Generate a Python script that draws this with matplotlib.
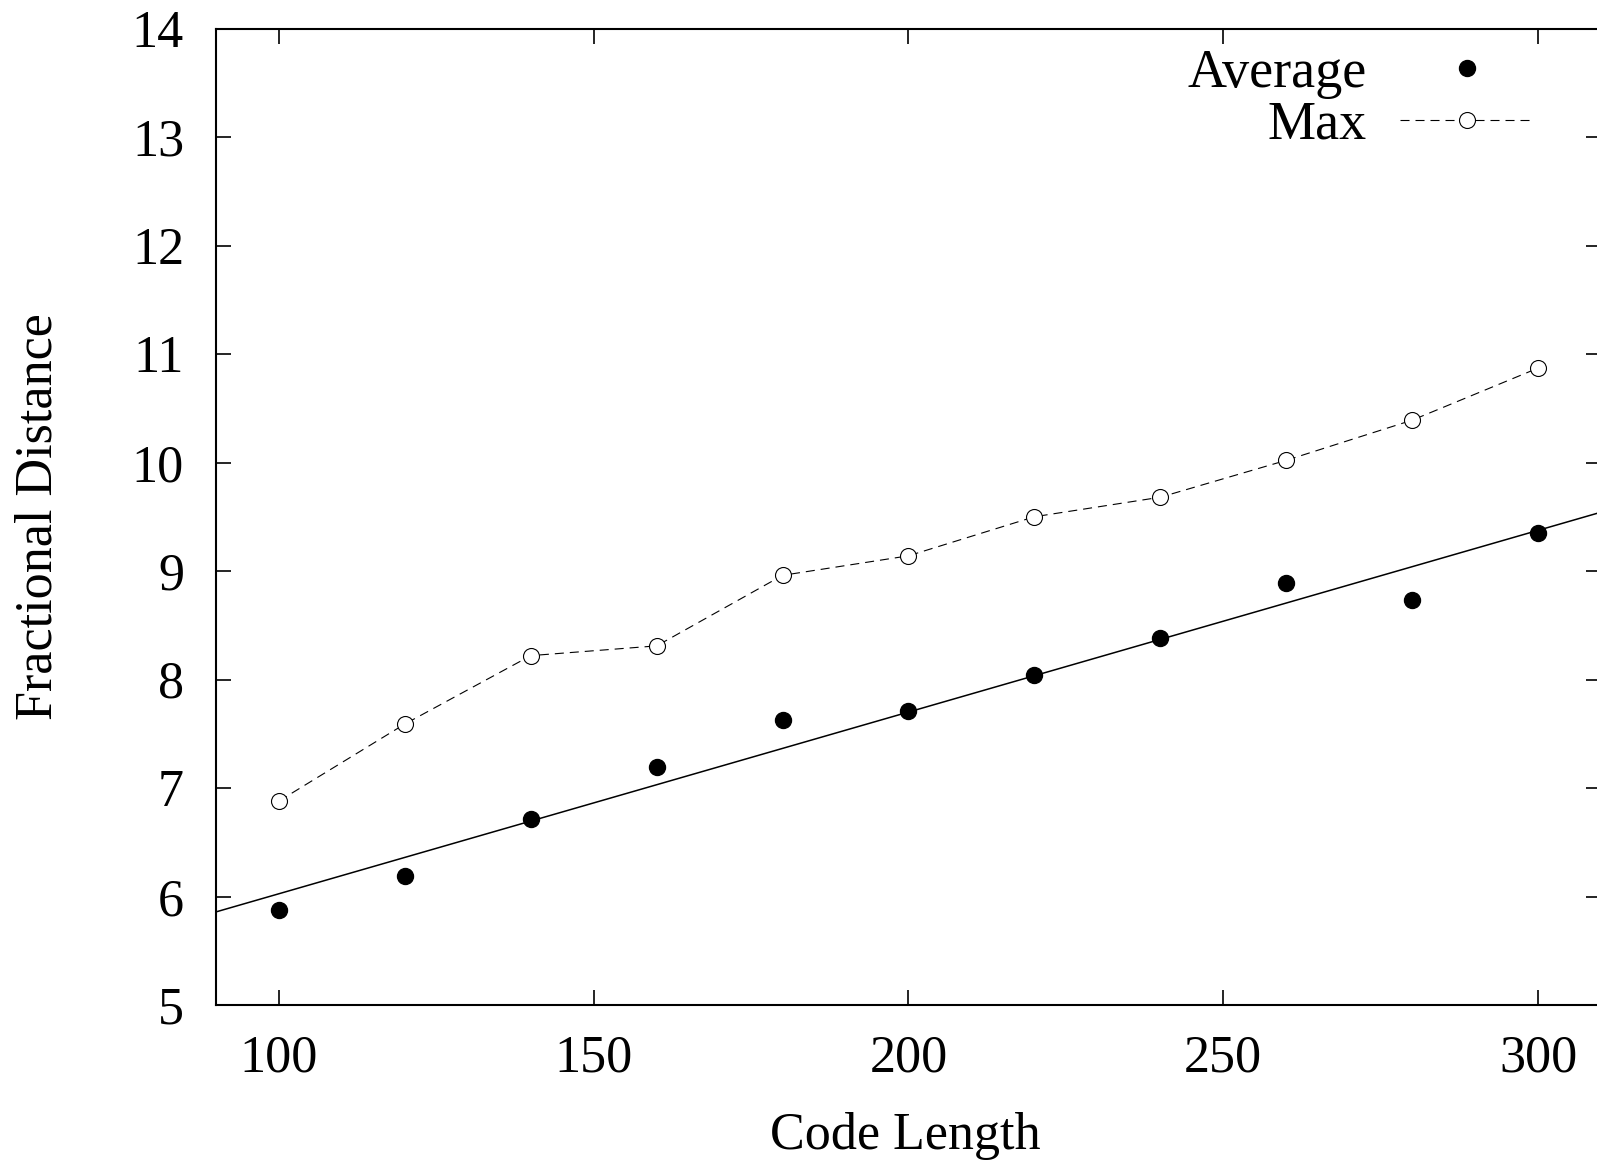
import numpy as np
import matplotlib
matplotlib.use("Agg")
import matplotlib.pyplot as plt

code_length = [100, 120, 140, 160, 180, 200, 220, 240, 260, 280, 300]
average = [5.88, 6.19, 6.71, 7.19, 7.63, 7.71, 8.04, 8.38, 8.89, 8.73, 9.35]
maximum = [6.88, 7.59, 8.22, 8.31, 8.96, 9.14, 9.50, 9.68, 10.02, 10.39, 10.87]
x_ticks = [100, 150, 200, 250, 300]
y_ticks = [5, 6, 7, 8, 9, 10, 11, 12, 13, 14]

plt.rcParams['font.family'] = ['Liberation Serif', 'DejaVu Serif']
plt.rcParams['lines.scale_dashes'] = False

fig = plt.figure(figsize=(15.97, 11.64), dpi=100)
ax = fig.add_axes([216/1597, 159/1164, 1385/1597, 976.5/1164])

# linear fit to average
coef = np.polyfit(code_length, average, 1)
xs = np.array([90, 310])
ax.plot(xs, np.polyval(coef, xs), color='black', lw=1.1, zorder=2)

ax.plot(code_length, average, linestyle='none', marker='o', ms=11.5,
        color='black', label='Average', zorder=3)
ax.plot(code_length, maximum, linestyle=(0, (6.5, 4.3)), lw=0.8, marker='o', ms=11.5,
        mfc='white', mec='black', mew=0.8, color='black', label='Max', zorder=3)

ax.set_xlim(90, 310)
ax.set_ylim(5, 14)
ax.set_xticks(x_ticks)
ax.set_yticks(y_ticks)
ax.tick_params(axis='both', direction='in', length=11, width=1.2,
               labelsize=37.5, top=True, right=True)
ax.tick_params(axis='x', pad=21)
ax.tick_params(axis='y', pad=23)
for s in ax.spines.values():
    s.set_linewidth(1.5)

ax.set_xlabel('Code Length', fontsize=37.5)
ax.set_ylabel('Fractional Distance', fontsize=37.5)
ax.xaxis.set_label_coords(0.498, -0.134)
ax.xaxis.label.set_va('center')
ax.yaxis.set_label_coords(-0.128, 0.5)
ax.yaxis.label.set_va('center')

leg = ax.legend(loc='upper right', bbox_to_anchor=(1319/1385, 1 - 20/976.5),
                frameon=False, markerfirst=False, fontsize=39, numpoints=1,
                handlelength=2.5, handletextpad=0.6, labelspacing=0.02,
                borderaxespad=0, borderpad=0)
for t in leg.get_texts():
    t.set_ha('right')

fig.savefig('out.png', dpi=100)
